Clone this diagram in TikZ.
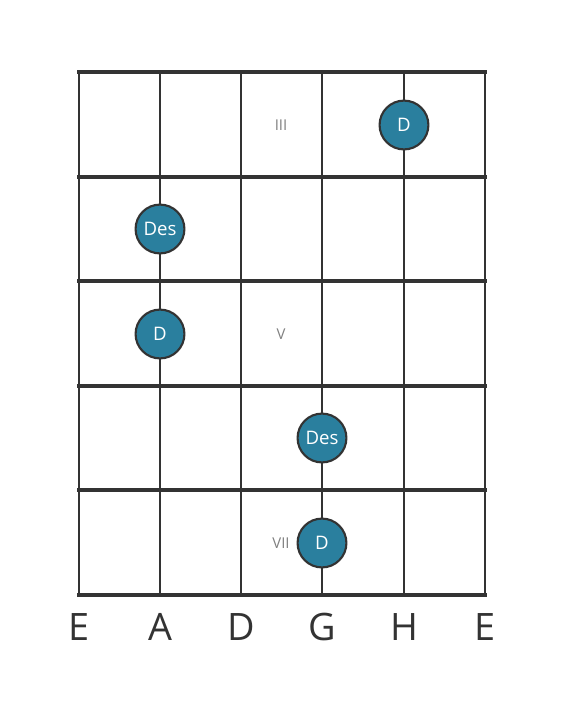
\documentclass[tikz,border=0pt]{standalone}
\usepackage{fontspec}
\setmainfont{Open Sans}
\usepackage{tikz}
\usetikzlibrary{positioning}
\definecolor{fretgray}{HTML}{333333}
\definecolor{noteteal}{HTML}{2A7F9E}
\begin{document}
\begin{tikzpicture}[x=0.02cm,y=-0.02cm,
            fret line/.style={draw=fretgray,line width=2.8pt},
            string line/.style={draw=fretgray,line width=1.7pt},
            note node/.style={circle,fill=noteteal,draw=fretgray,line width=1.2pt,
              minimum size=27.8pt,inner sep=0pt,text=white,font=\fontsize{10.6}{12}\selectfont},
            pos node/.style={text=gray,font=\fontsize{8.5}{10}\selectfont},
            name node/.style={text=fretgray,font=\fontsize{21.5}{24}\selectfont}]

            \useasboundingbox (0,0) rectangle (566,711);

            % strings and frets
            \foreach \x in {79,160,241,322,404,485}
              \draw[string line] (\x,72) -- (\x,595);
            \foreach \y in {72,177,281,386,490,595}
              \draw[fret line] (77,\y) -- (487,\y);

            % position marks
            \node[pos node] (III) at (281,125) {III};
            \node[pos node] (V) at (281,334) {V};
            \node[pos node] (VII) at (281,543) {VII};

            % notes
            \node[note node] (d1) at (404,125) {D};
            \node[note node] (des1) at (160,229) {Des};
            \node[note node] (d2) at (160,334) {D};
            \node[note node] (des2) at (322,438) {Des};
            \node[note node] (d3) at (322,543) {D};

            % string names
            \node[name node] (e1) at (79,627) {E};
            \node[name node] (a) at (160,627) {A};
            \node[name node] (d) at (241,627) {D};
            \node[name node] (g) at (322,627) {G};
            \node[name node] (h) at (404,627) {H};
            \node[name node] (e2) at (485,627) {E};
\end{tikzpicture}
\end{document}
